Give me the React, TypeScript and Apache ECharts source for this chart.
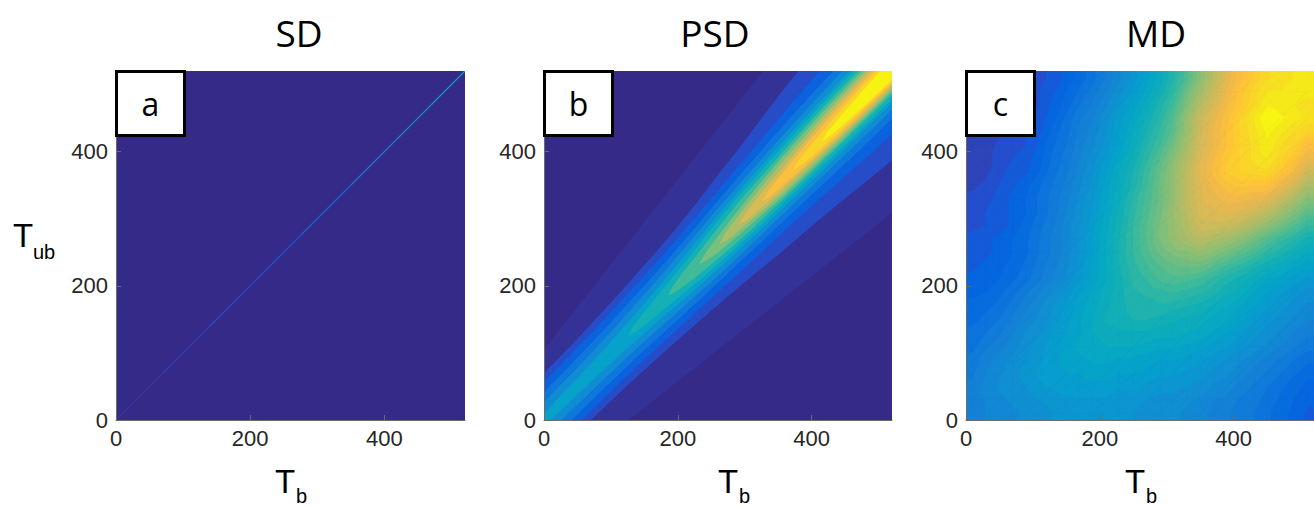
import React, { useEffect, useRef } from "react";
import * as echarts from "echarts";

// ---------- axes ----------
const axisMin = 0;
const axisMax = 520;
const tickStep = 200;
const panelTitles = ["SD", "PSD", "MD"];
const panelLetters = ["a", "b", "c"];

// ---------- colour scale (MATLAB parula) ----------
const parulaStops = [
  "#352A87", "#353DAD", "#2053D4", "#0268E1", "#0D75DC", "#1481D6", "#108ED2",
  "#079CCF", "#06A7C6", "#0FAEB9", "#25B5AA", "#42BB98", "#65BE86", "#87BF77",
  "#A5BE6B", "#C0BC60", "#D9BA56", "#F1B94A", "#FFC337", "#FAD32A", "#F5E41D",
  "#F9FB0E",
];
const valueMin = 0;
const valueMax = 100;

// ---------- SD: values along the diagonal T_b = T_ub ----------
const sdSegStart = [0, 70, 140, 210, 278, 350, 420, 470];
const sdSegEnd = [70, 140, 210, 278, 350, 420, 470, 520];
const sdSegValue = [3, 5, 8, 10, 18, 24, 30, 38];

// ---------- PSD: filled contour levels ----------
// each entry: [t along the diagonal, offset to upper-left edge, offset to lower-right edge]
const psdHalo = [[-60, 29], [380, 587], [620, 620], [620, 387], [50, -60], [-60, -60]];
const psdHaloValue = 2;
const psdL6 = [[-60, 69, 69], [0, 69, 69], [100, 72, 74], [200, 82, 86], [260, 92, 96], [300, 102, 104], [350, 114, 112], [400, 128, 122], [450, 140, 132], [520, 148, 138], [620, 148, 138]];
const psdL10 = [[-60, 56, 56], [0, 56, 56], [100, 59, 59], [200, 67, 67], [260, 75, 73], [300, 82, 76], [350, 90, 80], [400, 98, 86], [450, 106, 92], [520, 112, 96], [620, 112, 96]];
const psdL16 = [[-60, 41, 41], [0, 41, 41], [100, 44, 44], [200, 53, 53], [260, 61, 57], [300, 68, 60], [350, 75, 63], [400, 81, 67], [450, 86, 70], [520, 90, 72], [620, 90, 72]];
const psdL24 = [[-60, 26, 26], [0, 26, 26], [100, 30, 30], [200, 41, 41], [260, 51, 47], [300, 57, 49], [350, 63, 51], [400, 68, 54], [450, 72, 56], [520, 75, 58], [620, 75, 58]];
const psdL32 = [[-30, 0, 0], [-10, 7, 7], [20, 11, 11], [60, 13, 13], [100, 16, 16], [150, 22, 22], [200, 30, 30], [260, 41, 37], [300, 48, 40], [350, 54, 42], [400, 59, 45], [450, 62, 46], [520, 64, 48], [620, 64, 48]];
const psdL40 = [[125, 0, 0], [135, 6, 6], [155, 11, 11], [180, 16, 16], [200, 20, 20], [230, 26, 26], [260, 33, 29], [300, 41, 33], [350, 47, 35], [400, 52, 38], [450, 56, 40], [520, 58, 42], [620, 58, 42]];
const psdL48 = [[185, 0, 0], [195, 6, 6], [210, 11, 11], [235, 17, 17], [260, 23, 21], [300, 32, 26], [350, 39, 29], [400, 45, 31], [450, 49, 33], [520, 51, 35], [620, 51, 35]];
const psdL56 = [[232, 0, 0], [242, 6, 6], [257, 11, 11], [280, 17, 15], [300, 22, 18], [350, 32, 24], [400, 39, 27], [450, 43, 29], [520, 45, 31], [620, 45, 31]];
const psdL64 = [[262, 0, 0], [272, 6, 6], [287, 11, 9], [310, 17, 13], [350, 25, 19], [400, 32, 22], [450, 37, 25], [520, 40, 27], [620, 40, 27]];
const psdL72 = [[290, 0, 0], [300, 5, 5], [315, 10, 8], [340, 15, 12], [400, 25, 17], [450, 31, 21], [520, 34, 23], [620, 34, 23]];
const psdL80 = [[325, 0, 0], [335, 5, 5], [350, 9, 7], [400, 19, 13], [450, 25, 17], [520, 29, 19], [620, 29, 19]];
const psdL88 = [[370, 0, 0], [380, 5, 4], [400, 10, 8], [450, 18, 13], [520, 24, 16], [620, 24, 16]];
const psdL95 = [[415, 0, 0], [425, 5, 4], [450, 10, 8], [480, 14, 11], [520, 18, 13], [620, 18, 13]];
const psdProfiles = [psdL6, psdL10, psdL16, psdL24, psdL32, psdL40, psdL48, psdL56, psdL64, psdL72, psdL80, psdL88, psdL95];
const psdFillValues = [8, 13, 20, 28, 36, 44, 52, 60, 68, 76, 84, 91, 98];

// ---------- MD: gridded values (rows bottom -> top) ----------
const mdX = [10, 30, 50, 70, 90, 110, 130, 150, 170, 190, 210, 230, 250, 270, 290, 310, 330, 350, 370, 390, 410, 430, 450, 470, 490, 510];
const mdY = [10, 30, 50, 70, 90, 110, 130, 150, 170, 190, 210, 230, 250, 270, 290, 310, 330, 350, 370, 390, 410, 430, 450, 470, 490, 510];
const mdRows = [
  [24, 25, 26, 27, 28, 29, 30, 31, 31, 31, 31, 30, 30, 29, 28, 28, 27, 26, 24, 23, 21, 20, 18, 16, 14, 12],
  [24, 25, 27, 28, 29, 30, 31, 32, 32, 32, 32, 31, 31, 30, 29, 29, 28, 27, 25, 24, 22, 21, 19, 17, 15, 13],
  [23, 26, 28, 29, 30, 32, 33, 34, 34, 34, 34, 33, 33, 32, 31, 31, 30, 29, 27, 26, 24, 22, 20, 18, 16, 14],
  [22, 25, 27, 29, 31, 33, 34, 35, 35, 36, 36, 35, 35, 34, 33, 33, 32, 31, 29, 28, 26, 24, 22, 20, 18, 16],
  [21, 24, 26, 28, 30, 32, 34, 36, 37, 38, 38, 37, 37, 36, 35, 35, 34, 33, 31, 30, 28, 26, 24, 22, 20, 18],
  [19, 22, 24, 26, 29, 31, 34, 36, 38, 39, 40, 40, 40, 39, 38, 38, 37, 36, 34, 33, 31, 29, 27, 25, 23, 21],
  [18, 20, 22, 25, 28, 30, 33, 35, 37, 40, 41, 42, 42, 42, 41, 41, 40, 39, 37, 35, 33, 31, 29, 27, 25, 23],
  [17, 18, 20, 23, 26, 28, 31, 34, 37, 40, 43, 44, 45, 45, 44, 43, 42, 41, 39, 38, 36, 33, 31, 29, 27, 25],
  [16, 17, 18, 21, 24, 27, 30, 33, 36, 39, 42, 44, 46, 46, 47, 46, 45, 44, 42, 40, 38, 35, 33, 31, 29, 27],
  [14, 15, 17, 19, 22, 25, 28, 31, 35, 38, 41, 44, 47, 48, 49, 50, 49, 48, 46, 43, 41, 38, 35, 33, 31, 29],
  [13, 14, 15, 17, 19, 22, 25, 28, 32, 36, 40, 44, 48, 50, 53, 54, 53, 52, 49, 46, 44, 41, 38, 36, 34, 32],
  [12, 13, 14, 16, 18, 21, 24, 27, 31, 36, 40, 45, 49, 52, 55, 57, 58, 58, 55, 52, 49, 46, 43, 41, 38, 36],
  [11, 12, 13, 15, 17, 20, 23, 26, 30, 35, 40, 45, 50, 54, 58, 61, 62, 64, 62, 59, 56, 53, 49, 46, 43, 40],
  [11, 12, 13, 15, 17, 20, 23, 26, 30, 35, 40, 45, 50, 55, 60, 64, 67, 70, 68, 66, 63, 59, 55, 51, 48, 44],
  [9, 10, 11, 13, 16, 19, 22, 26, 30, 34, 39, 44, 50, 55, 60, 64, 69, 74, 74, 73, 71, 67, 63, 59, 55, 50],
  [9, 10, 11, 13, 15, 18, 21, 25, 29, 33, 38, 43, 49, 54, 59, 65, 70, 76, 77, 78, 77, 74, 71, 66, 61, 56],
  [8, 9, 11, 13, 15, 18, 21, 24, 28, 32, 37, 42, 48, 53, 58, 64, 71, 77, 79, 81, 81, 80, 78, 73, 68, 62],
  [7, 8, 10, 12, 14, 17, 20, 23, 27, 31, 36, 41, 46, 52, 58, 64, 71, 77, 81, 84, 86, 85, 85, 80, 75, 68],
  [6, 7, 9, 11, 12, 15, 19, 22, 26, 30, 35, 40, 45, 51, 57, 64, 71, 78, 83, 88, 90, 91, 92, 87, 82, 74],
  [6, 7, 8, 10, 11, 14, 18, 21, 25, 29, 33, 38, 43, 49, 55, 62, 69, 77, 82, 87, 90, 93, 95, 91, 86, 80],
  [5, 6, 8, 9, 10, 13, 17, 20, 24, 27, 31, 36, 41, 47, 52, 59, 67, 75, 80, 85, 90, 93, 97, 93, 90, 84],
  [5, 6, 7, 8, 10, 12, 16, 19, 23, 26, 30, 35, 40, 45, 50, 56, 65, 74, 80, 85, 90, 94, 98, 96, 93, 90],
  [4, 5, 7, 8, 9, 11, 14, 18, 22, 25, 29, 34, 38, 43, 48, 55, 64, 73, 79, 84, 90, 95, 100, 98, 96, 94],
  [4, 5, 6, 7, 8, 10, 13, 16, 20, 23, 27, 32, 36, 41, 46, 52, 61, 69, 75, 82, 87, 92, 97, 96, 95, 94],
  [3, 4, 6, 7, 8, 10, 12, 15, 18, 21, 25, 29, 33, 38, 43, 49, 58, 66, 73, 80, 86, 91, 95, 95, 96, 96],
  [3, 4, 5, 6, 7, 9, 11, 13, 16, 19, 23, 27, 31, 36, 41, 47, 54, 62, 70, 78, 84, 88, 92, 94, 95, 96],
];
const mdLevelStep = 2.5; // contour-fill spacing (like MATLAB contourf)

// ---------- layout ----------
const gridRects = [
  { left: 116, top: 71, width: 349, height: 349 },
  { left: 544, top: 71, width: 348, height: 349 },
  { left: 966, top: 71, width: 348, height: 349 },
];
const titleCenters = [299, 715, 1156];
const xNameLeft = [275, 718, 1125];

function profileToPolygon(profile: number[][]) {
  const upper = profile.map(([t, du]) => [t - du / 2, t + du / 2]);
  const lower = profile
    .slice()
    .reverse()
    .map(([t, , dl]) => [t + dl / 2, t - dl / 2]);
  return upper.concat(lower);
}

type P3 = number[];
function clipAbove(poly: P3[], L: number): P3[] {
  const out: P3[] = [];
  for (let i = 0; i < poly.length; i++) {
    const p = poly[i];
    const q = poly[(i + 1) % poly.length];
    const pin = p[2] >= L;
    const qin = q[2] >= L;
    if (pin) out.push(p);
    if (pin !== qin) {
      const t = (L - p[2]) / (q[2] - p[2]);
      out.push([p[0] + t * (q[0] - p[0]), p[1] + t * (q[1] - p[1]), L]);
    }
  }
  return out;
}
function clipBelow(poly: P3[], U: number): P3[] {
  const out: P3[] = [];
  for (let i = 0; i < poly.length; i++) {
    const p = poly[i];
    const q = poly[(i + 1) % poly.length];
    const pin = p[2] <= U;
    const qin = q[2] <= U;
    if (pin) out.push(p);
    if (pin !== qin) {
      const t = (U - p[2]) / (q[2] - p[2]);
      out.push([p[0] + t * (q[0] - p[0]), p[1] + t * (q[1] - p[1]), U]);
    }
  }
  return out;
}

// filled contour bands of the MD grid (edges extended to the axis limits)
function buildMdBands() {
  const gx = [axisMin].concat(mdX, [axisMax]);
  const gy = [axisMin].concat(mdY, [axisMax]);
  const nC = mdX.length;
  const nR = mdY.length;
  const val = (r: number, c: number) =>
    mdRows[Math.min(nR - 1, Math.max(0, r - 1))][Math.min(nC - 1, Math.max(0, c - 1))];
  const polys: number[][][] = [];
  const values: number[] = [];
  for (let r = 0; r < gy.length - 1; r++) {
    for (let c = 0; c < gx.length - 1; c++) {
      const A = [gx[c], gy[r], val(r, c)];
      const B = [gx[c + 1], gy[r], val(r, c + 1)];
      const C = [gx[c + 1], gy[r + 1], val(r + 1, c + 1)];
      const D = [gx[c], gy[r + 1], val(r + 1, c)];
      for (const tri of [[A, B, C], [A, C, D]]) {
        const vs = tri.map((p) => p[2]);
        const lo = Math.min(...vs);
        const hi = Math.max(...vs);
        const k0 = Math.floor(lo / mdLevelStep);
        const k1 = Math.floor(hi / mdLevelStep);
        for (let k = k0; k <= k1; k++) {
          const L = k * mdLevelStep;
          const U = L + mdLevelStep;
          let poly = k === k0 ? tri : clipAbove(tri, L);
          if (k !== k1) poly = clipBelow(poly, U);
          if (poly.length >= 3) {
            polys.push(poly.map((p) => [p[0], p[1]]));
            values.push(L + mdLevelStep / 2);
          }
        }
      }
    }
  }
  return { polys, values };
}

export default function App() {
  const ref = useRef<HTMLDivElement>(null);

  useEffect(() => {
    if (!ref.current) return;
    const chart = echarts.init(ref.current, null, { renderer: "svg" });

    const sdData = sdSegStart.map((s, i) => [s, sdSegEnd[i], sdSegValue[i]]);

    const psdPolygons = [psdHalo].concat(psdProfiles.map(profileToPolygon));
    const psdData = [[0, 0, psdHaloValue]].concat(
      psdFillValues.map((v, i) => [i + 1, 0, v])
    );

    const md = buildMdBands();
    const mdData = md.values.map((v, i) => [i, 0, v]);

    const axisCommon = {
      type: "value",
      min: axisMin,
      max: axisMax,
      interval: tickStep,
      splitLine: { show: false },
      axisLine: { show: true, onZero: false, lineStyle: { color: "#6b6b6b", width: 1 } },
      axisTick: { show: true, inside: true, length: 5, lineStyle: { color: "#6b6b6b" } },
      z: 10,
    };
    const labelCommon = {
      fontSize: 22,
      color: "#262626",
      fontFamily: "Liberation Sans",
      showMaxLabel: false,
    };

    const textStyle = (text: string, size: number, family: string, align: string) => ({
      text,
      fontSize: size,
      fontFamily: family,
      fill: "#000",
      textAlign: align,
      textVerticalAlign: "middle",
    });

    const graphics: any[] = [];
    gridRects.forEach((g, i) => {
      graphics.push({
        type: "text",
        x: titleCenters[i],
        y: 32,
        style: textStyle(panelTitles[i], 37, "Open Sans", "center"),
        z: 100,
      });
      graphics.push({
        type: "rect",
        shape: { x: g.left + 0.5, y: g.top + 0.5, width: 68, height: 64 },
        style: { fill: "#fff", stroke: "#000", lineWidth: 3 },
        z: 100,
      });
      graphics.push({
        type: "text",
        x: g.left + 34.5,
        y: g.top + 32,
        style: textStyle(panelLetters[i], 32, "Open Sans", "center"),
        z: 101,
      });
      graphics.push({
        type: "text",
        x: xNameLeft[i],
        y: 481,
        style: textStyle("T", 33, "Liberation Sans", "left"),
        z: 100,
      });
      graphics.push({
        type: "text",
        x: xNameLeft[i] + 21,
        y: 496,
        style: textStyle("b", 20, "Liberation Sans", "left"),
        z: 100,
      });
    });
    graphics.push({
      type: "text",
      x: 13,
      y: 235,
      style: textStyle("T", 33, "Liberation Sans", "left"),
      z: 100,
    });
    graphics.push({
      type: "text",
      x: 33,
      y: 252,
      style: textStyle("ub", 20, "Liberation Sans", "left"),
      z: 100,
    });

    const option: any = {
      animation: false,
      backgroundColor: "#ffffff",
      grid: gridRects.map((g) => ({
        ...g,
        show: true,
        backgroundColor: parulaStops[0],
        borderWidth: 0,
        containLabel: false,
      })),
      xAxis: gridRects.map((_, i) => ({
        ...axisCommon,
        gridIndex: i,
        axisLabel: { ...labelCommon, margin: 7 },
      })),
      yAxis: gridRects.map((_, i) => ({
        ...axisCommon,
        gridIndex: i,
        axisLabel: { ...labelCommon, margin: 8 },
      })),
      visualMap: {
        type: "continuous",
        show: false,
        min: valueMin,
        max: valueMax,
        dimension: 2,
        seriesIndex: [0, 1, 2],
        inRange: { color: parulaStops },
      },
      series: [
        {
          type: "custom",
          name: "SD",
          xAxisIndex: 0,
          yAxisIndex: 0,
          clip: true,
          data: sdData,
          renderItem: (params: any, api: any) => {
            const a = api.coord([api.value(0), api.value(0)]);
            const b = api.coord([api.value(1), api.value(1)]);
            return {
              type: "line",
              shape: { x1: a[0], y1: a[1], x2: b[0], y2: b[1] },
              style: { stroke: api.visual("color"), lineWidth: 1.2 },
            };
          },
        },
        {
          type: "custom",
          name: "PSD",
          xAxisIndex: 1,
          yAxisIndex: 1,
          clip: true,
          data: psdData,
          renderItem: (params: any, api: any) => {
            const idx = api.value(0);
            const pts = psdPolygons[idx].map((p: number[]) => api.coord(p));
            return {
              type: "polygon",
              shape: { points: pts, smooth: idx === 0 ? 0 : 0.3 },
              style: { fill: api.visual("color") },
            };
          },
        },
        {
          type: "custom",
          name: "MD",
          xAxisIndex: 2,
          yAxisIndex: 2,
          clip: true,
          progressive: 0,
          data: mdData,
          renderItem: (params: any, api: any) => {
            const idx = api.value(0);
            const pts = md.polys[idx].map((p: number[]) => api.coord(p));
            const col = api.visual("color");
            return {
              type: "polygon",
              shape: { points: pts },
              style: { fill: col, stroke: col, lineWidth: 1, lineJoin: "round" },
            };
          },
        },
      ],
      graphic: graphics,
    };

    chart.setOption(option);
    return () => chart.dispose();
  }, []);

  return (
    <div
      ref={ref}
      style={{ position: "fixed", left: 0, top: 0, width: 1314, height: 508, background: "#fff" }}
    />
  );
}
